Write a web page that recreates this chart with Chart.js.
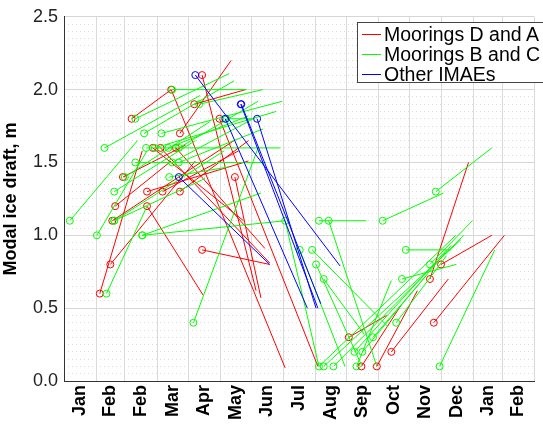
<!DOCTYPE html>
<html>
<head>
<meta charset="utf-8">
<script src="https://cdn.jsdelivr.net/npm/chart.js@4.4.1/dist/chart.umd.min.js"></script>
<style>
html, body { margin: 0; padding: 0; background: #fff; overflow: hidden; }
#wrap { position: relative; width: 560px; height: 424px; }
#legend { position: absolute; left: 357px; top: 22px; width: 200px; height: 61px; box-sizing: border-box;
  border: 1px solid #444; background: #fff; padding-top: 1px;
  font: 19.5px "Liberation Sans", Arial, sans-serif; color: #000; }
.row { position: relative; height: 20px; line-height: 20px; white-space: nowrap; padding-left: 26px; }
.sw { position: absolute; left: 4px; top: 10px; width: 19px; height: 1px; }
</style>
</head>
<body>
<div id="wrap">
  <canvas id="chart" width="560" height="424"></canvas>
  <div id="legend"></div>
</div>
<script>
// x values are days counted from 1 Jan of the first year
const monthLabels = ['Jan','Feb','Feb','Mar','Apr','May','Jun','Jul','Aug','Sep','Oct','Nov','Dec','Jan','Feb'];
const monthStarts = [0,31,59,90,120,151,181,212,243,273,304,334,365,396,424,455];
const labelDays = [15.5,45,74.5,105,135.5,166,196.5,227.5,258,288.5,319,349.5,380.5,410,439.5];
const yTicks = [0,0.5,1.0,1.5,2.0,2.5];

// Moorings D and A: each segment starts at the circle (day0, draft0) and ends at (day1, draft1)
const redDay0   = [34.6,44.8,49.5,46.7,80.3,95.3,112.1,80.3,133.6,65.4,103.7,126,112.1,150.4,93.4,108.3,165.3,85.9,275.5,287.7,302.6,316.6,357.7,354,364.7,57,133.6];
const redDraft0 = [0.6,0.8,1.2,1.1,1.3,1.3,1.3,1.2,0.9,1.8,2.0,1.9,1.7,1.8,1.6,1.6,1.4,1.6,0.3,0.1,0.1,0.2,0.4,0.7,0.8,1.4,2.1];
const redDay1   = [75.7,127,103.7,164.4,178.4,169,178.4,134.5,199,103.7,213.9,175.6,161.6,245.6,199,194.3,190.5,173.7,312,326,341.8,371.7,426,391.3,413.8,117.7,185.8];
const redDraft1 = [1.58,1.51,1.51,1.65,1.51,1.58,1.65,0.59,0.8,2.0,0.09,2.0,2.2,0.1,0.81,0.91,0.57,1.1,0.45,0.52,0.62,0.7,1.0,1.5,1.0,1.62,0.62];

// Moorings B and C
const greenDay0   = [5.6,31.8,41.1,48.6,48.6,48.6,75.7,75.7,39.2,69,77.5,94.3,79.4,100.9,111.1,69,104.6,111.1,101.8,104.6,130.8,157,125.2,213.9,246.6,256,308.2,359.6,228,240,243.8,251.2,246.6,251.2,260.6,281,288.6,283,298.9,321.3,326.9,330.6,354,363.3,58.8,87.8];
const greenDraft0 = [1.1,1.0,0.6,1.1,1.1,1.3,1.0,1.0,1.6,1.8,1.7,1.7,1.6,1.6,1.6,1.5,1.5,1.5,1.4,2.0,1.9,1.8,0.4,1.1,1.1,1.1,1.1,1.3,0.9,0.9,0.8,0.7,0.1,0.1,0.1,0.2,0.2,0.1,0.3,0.4,0.7,0.9,0.8,0.1,1.4,1.6];
const greenDay1   = [71,80.3,80.3,136.4,155,127,190.5,213.9,131.7,159.7,164.4,211,209.2,178.4,187.7,195.2,183,192.4,159.7,176.5,192.4,181.2,187.7,246.6,292.3,302.6,367,413.8,271.8,313.8,287.7,290.5,379,383.9,386.7,370,374.5,316.6,351.2,370,379.2,374.5,395,416.6,141,205];
const greenDraft1 = [1.65,1.58,1.2,1.39,1.58,1.65,1.29,1.1,1.96,2.11,2.06,1.92,1.6,1.82,1.92,1.5,1.8,1.73,1.47,2.0,2.0,1.8,1.6,0.1,1.1,0.1,1.29,1.6,0.1,0.37,0.11,0.32,1.0,0.97,1.0,0.9,0.93,0.69,0.73,0.86,0.8,0.9,1.1,0.9,1.78,1.85];

// Other IMAEs
const blueDay0   = [127,111.1,171,186.8,156,171.5];
const blueDraft0 = [2.1,1.4,1.9,1.8,1.8,1.9];
const blueDay1   = [267,199,245.6,243.8,235.4,248.4];
const blueDraft1 = [0.79,0.8,0.5,0.5,0.5,0.53];

const seriesNames = ['Moorings D and A', 'Moorings B and C', 'Other IMAEs'];
const seriesColors = ['#ff0000', '#00ff00', '#0000ff'];

function segments(d0, v0, d1, v1) {
  const pts = [];
  d0.forEach((d, i) => {
    pts.push({x: d, y: v0[i]});
    pts.push({x: d1[i], y: v1[i]});
    pts.push({x: d1[i], y: null});
  });
  return pts;
}

function makeSet(k, pts, order) {
  const color = seriesColors[k];
  return {
    label: seriesNames[k],
    data: pts,
    showLine: true,
    spanGaps: false,
    borderColor: color,
    borderWidth: 1,
    pointStyle: 'circle',
    pointRadius: ctx => (ctx.dataIndex % 3 === 0 ? 3.5 : 0),
    pointBorderColor: color,
    pointBackgroundColor: 'rgba(0,0,0,0)',
    pointBorderWidth: 1,
    order: order
  };
}

const datasets = [
  makeSet(0, segments(redDay0, redDraft0, redDay1, redDraft1), 2),
  makeSet(1, segments(greenDay0, greenDraft0, greenDay1, greenDraft1), 1),
  makeSet(2, segments(blueDay0, blueDraft0, blueDay1, blueDraft1), 0)
];

const isStart = v => monthStarts.indexOf(v) !== -1;
const isMajor = v => Math.abs(v * 2 - Math.round(v * 2)) < 1e-6;

new Chart(document.getElementById('chart').getContext('2d'), {
  type: 'scatter',
  data: { datasets: datasets },
  options: {
    responsive: false,
    animation: false,
    layout: { padding: { top: 16, right: 9, left: 0, bottom: 0 } },
    plugins: { legend: { display: false }, tooltip: { enabled: false } },
    scales: {
      x: {
        type: 'linear',
        min: 0,
        max: 455,
        afterBuildTicks: s => {
          s.ticks = monthStarts.concat(labelDays).sort((a, b) => a - b).map(v => ({ value: v }));
        },
        afterFit: s => { s.height = 43; },
        ticks: {
          autoSkip: false,
          maxRotation: 90,
          minRotation: 90,
          padding: 4,
          color: '#000',
          font: { family: 'Liberation Sans', size: 18, weight: 'bold' },
          callback: v => {
            const i = labelDays.indexOf(v);
            return i === -1 ? '' : monthLabels[i];
          }
        },
        grid: {
          drawTicks: false,
          color: ctx => (ctx.tick && isStart(ctx.tick.value) ? '#dadada' : 'rgba(0,0,0,0)')
        },
        border: { color: '#333', width: 1 }
      },
      y: {
        min: 0,
        max: 2.5,
        afterBuildTicks: s => { s.ticks = yTicks.map(v => ({ value: v })); },
        afterFit: s => { s.width = 64; },
        ticks: {
          padding: 6,
          color: '#222',
          font: { family: 'Liberation Sans', size: 18 },
          callback: v => v.toFixed(1)
        },
        grid: { drawTicks: false, color: '#d6d6d6' },
        border: { color: '#333', width: 1 },
        title: {
          display: true,
          text: 'Modal ice draft, m',
          color: '#000',
          padding: { top: 0, bottom: 4 },
          font: { family: 'Liberation Sans', size: 18, weight: 'bold' }
        }
      },
      yMinor: {
        position: 'right',
        min: 0,
        max: 2.5,
        afterBuildTicks: s => {
          const t = [];
          for (let i = 0; i <= 50; i++) t.push({ value: i * 0.05 });
          s.ticks = t;
        },
        afterFit: s => { s.width = 0; },
        ticks: { display: false },
        grid: {
          drawTicks: false,
          color: ctx => (ctx.tick && isMajor(ctx.tick.value) ? 'rgba(0,0,0,0)' : '#dcdcdc')
        },
        border: { display: false, dash: [1, 3] }
      }
    }
  }
});

// legend box drawn as html over the plot
const legend = document.getElementById('legend');
seriesNames.forEach((name, k) => {
  const row = document.createElement('div');
  row.className = 'row';
  const sw = document.createElement('span');
  sw.className = 'sw';
  sw.style.backgroundColor = seriesColors[k];
  row.appendChild(sw);
  row.appendChild(document.createTextNode(name));
  legend.appendChild(row);
});
</script>
</body>
</html>
